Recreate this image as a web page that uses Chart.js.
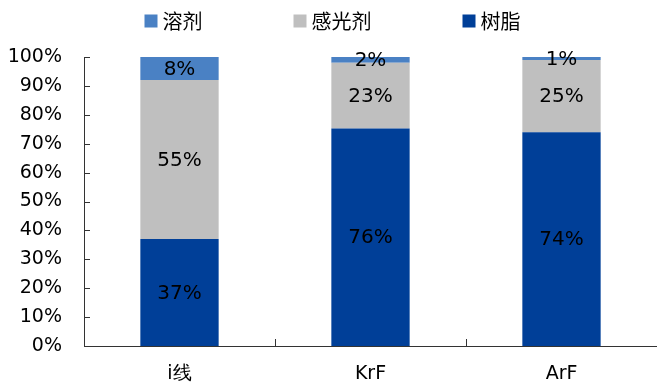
<!DOCTYPE html>
<html lang="zh">
<head>
  <meta charset="UTF-8">
  <title>光刻胶成分构成</title>
  <script src="https://cdn.jsdelivr.net/npm/chart.js"></script>
  <style>
    html, body { margin: 0; padding: 0; background: #fff; }
    #wrap { width: 657px; height: 385px; }
  </style>
</head>
<body>
  <div id="wrap"><canvas id="compChart"></canvas></div>
  <script>
    // categories and component shares (%), bottom to top of each stack
    const categories = ['i线', 'KrF', 'ArF'];
    const resin = [37, 76, 74];        // 树脂
    const sensitizer = [55, 23, 25];   // 感光剂
    const solvent = [8, 2, 1];         // 溶剂
    const yTicks = [0, 10, 20, 30, 40, 50, 60, 70, 80, 90, 100];

    const seriesNames = ['树脂', '感光剂', '溶剂'];
    const seriesColors = ['#003f98', '#bfbfbf', '#4a81c4'];
    const rawSeries = [resin, sensitizer, solvent];

    // 100% stacking: each column scaled by its own total
    const totals = categories.map((_, i) => rawSeries.reduce((s, arr) => s + arr[i], 0));
    const pctSeries = rawSeries.map(arr => arr.map((v, i) => v / totals[i] * 100));

    const numFont = '"DejaVu Sans", Verdana, sans-serif';
    const cjkFont = '"Noto Sans CJK SC", "DejaVu Sans", sans-serif';

    // value labels in the middle of every segment
    const segmentLabels = {
      id: 'segmentLabels',
      afterDatasetsDraw(chart) {
        const ctx = chart.ctx;
        ctx.save();
        ctx.font = '20px ' + numFont;
        ctx.fillStyle = '#000';
        ctx.textAlign = 'center';
        ctx.textBaseline = 'middle';
        chart.data.datasets.forEach((ds, di) => {
          const meta = chart.getDatasetMeta(di);
          meta.data.forEach((bar, i) => {
            const top = Math.max(bar.y, chart.chartArea.top);
            const y = (top + bar.base) / 2;
            ctx.fillText(rawSeries[di][i] + '%', bar.x, y + 1);
          });
        });
        ctx.restore();
      }
    };

    // inward tick marks on both axes
    const axisTicks = {
      id: 'axisTicks',
      afterDraw(chart) {
        const { ctx, chartArea } = chart;
        const x = chart.scales.x, y = chart.scales.y;
        ctx.save();
        ctx.strokeStyle = '#333';
        ctx.lineWidth = 1;
        ctx.beginPath();
        yTicks.forEach(t => {
          const py = Math.round(y.getPixelForValue(t)) + 0.5;
          ctx.moveTo(chartArea.left, py);
          ctx.lineTo(chartArea.left + 6, py);
        });
        for (let i = 1; i < categories.length; i++) {
          const px = Math.round((x.getPixelForValue(i - 1) + x.getPixelForValue(i)) / 2) + 0.5;
          ctx.moveTo(px, chartArea.bottom);
          ctx.lineTo(px, chartArea.bottom - 7);
        }
        ctx.stroke();
        ctx.restore();
      }
    };

    // legend drawn in reverse series order across the top
    const topLegend = {
      id: 'topLegend',
      afterDraw(chart) {
        const ctx = chart.ctx;
        const box = 13, gapText = 5, gapItem = 91;
        ctx.save();
        ctx.font = '20px ' + cjkFont;
        ctx.textBaseline = 'middle';
        const order = [2, 1, 0];
        const widths = order.map(i => box + gapText + ctx.measureText(seriesNames[i]).width);
        const total = widths.reduce((a, b) => a + b, 0) + gapItem * (order.length - 1);
        let x = chart.width / 2 + 4 - total / 2;
        const cy = 21;
        order.forEach((si, k) => {
          ctx.fillStyle = seriesColors[si];
          ctx.fillRect(x, cy - box / 2, box, box);
          ctx.fillStyle = '#000';
          ctx.fillText(seriesNames[si], x + box + gapText, cy);
          x += widths[k] + gapItem;
        });
        ctx.restore();
      }
    };

    new Chart(document.getElementById('compChart'), {
      type: 'bar',
      data: {
        labels: categories,
        datasets: seriesNames.map((name, i) => ({
          label: name,
          data: pctSeries[i],
          backgroundColor: seriesColors[i],
          borderWidth: 0,
          barPercentage: 1,
          categoryPercentage: 0.41
        }))
      },
      options: {
        responsive: true,
        maintainAspectRatio: false,
        animation: false,
        devicePixelRatio: 1,
        layout: { padding: { top: 57, right: 0, left: 0, bottom: 0 } },
        plugins: {
          legend: { display: false },
          tooltip: { enabled: false }
        },
        scales: {
          x: {
            stacked: true,
            grid: { display: false, drawTicks: false },
            border: { display: true, color: '#333', width: 1 },
            ticks: {
              color: '#000',
              padding: 17,
              font: { size: 19, family: numFont }
            },
            afterFit(s) { s.height = 39; }
          },
          y: {
            stacked: true,
            min: 0,
            max: 100,
            afterBuildTicks(s) { s.ticks = yTicks.map(v => ({ value: v })); },
            grid: { display: false, drawTicks: false },
            border: { display: true, color: '#333', width: 1 },
            ticks: {
              color: '#000',
              padding: 22,
              font: { size: 19, family: numFont },
              callback: v => v + '%'
            },
            afterFit(s) { s.width = 84; }
          }
        }
      },
      plugins: [segmentLabels, axisTicks, topLegend]
    });
  </script>
</body>
</html>
